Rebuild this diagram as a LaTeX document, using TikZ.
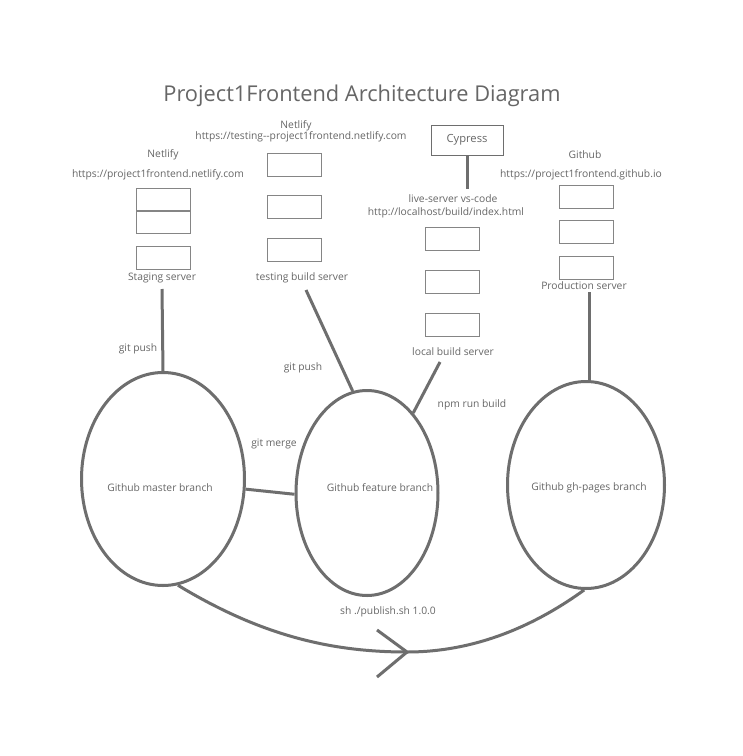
\documentclass[tikz,border=0pt]{standalone}
\usepackage{fontspec}
\setmainfont{Open Sans}
\usetikzlibrary{shapes.geometric,calc}
\definecolor{ln}{HTML}{6E6E6E}
\definecolor{tx}{HTML}{666666}
\definecolor{bx}{HTML}{858585}
\begin{document}
\begin{tikzpicture}[x=1pt,y=-1pt,
  lbl/.style={text=tx,font=\fontsize{10.3}{12}\selectfont,inner sep=0pt,yshift=-1.5pt},
  srv/.style={draw=bx,line width=1pt,minimum width=54pt,minimum height=23pt,inner sep=0pt},
  br/.style={ellipse,draw=ln,line width=3pt,inner sep=0pt},
  conn/.style={draw=ln,line width=3pt}]
\useasboundingbox[fill=white] (0,0) rectangle (743,756);
\node[text=tx,font=\fontsize{21.8}{26}\selectfont,inner sep=0pt] (title) at (362,96) {Project1Frontend Architecture Diagram};
% staging column
\node[lbl] (n1) at (163,153) {Netlify};
\node[lbl] (u1) at (158,173) {https://project1frontend.netlify.com};
\node[srv] (s1a) at (163,199.5) {};
\node[srv] (s1b) at (163,222) {};
\node[srv] (s1c) at (163,257.5) {};
\node[lbl] (stg) at (162,276) {Staging server};
% testing column
\node[lbl] (n2) at (296,124) {Netlify};
\node[lbl] (u2) at (301,135) {https://testing-{}-project1frontend.netlify.com};
\node[srv] (s2a) at (294.5,165) {};
\node[srv] (s2b) at (294.5,207) {};
\node[srv] (s2c) at (294.5,250) {};
\node[lbl] (tst) at (302,276) {testing build server};
% local column
\node[draw=ln,line width=1pt,minimum width=72pt,minimum height=30pt,inner sep=0pt,text=tx,font=\fontsize{11.2}{13}\selectfont] (cy) at (467,140) {Cypress};
\node[lbl] (lv) at (453,197) {live-server vs-code};
\node[lbl] (lh) at (446,211) {http://localhost/build/index.html};
\node[srv] (s3a) at (452,239) {};
\node[srv] (s3b) at (452,282) {};
\node[srv] (s3c) at (452,325) {};
\node[lbl] (loc) at (453,350) {local build server};
% github column
\node[lbl] (n4) at (585,153) {Github};
\node[lbl] (u4) at (581,173) {https://project1frontend.github.io};
\node[srv] (s4a) at (586.5,197) {};
\node[srv] (s4b) at (586.5,232) {};
\node[srv] (s4c) at (586.5,268) {};
\node[lbl] (prd) at (584,284) {Production server};
% branches
\node[br,minimum width=163pt,minimum height=213pt] (master) at (163,479) {};
\node[br,minimum width=142pt,minimum height=205pt] (feature) at (367,493) {};
\node[br,minimum width=157pt,minimum height=207pt] (gh) at (586,485) {};
\node[lbl] (tm) at (160,486) {Github master branch};
\node[lbl] (tf) at (380,486) {Github feature branch};
\node[lbl] (tg) at (589,486) {Github gh-pages branch};
% labels
\node[lbl] (gp1) at (138,347) {git push};
\node[lbl] (gp2) at (303,366) {git push};
\node[lbl] (npm) at (472,403) {npm run build};
\node[lbl] (gm) at (274,442) {git merge};
\node[lbl] (pub) at (388,610) {sh ./publish.sh 1.0.0};
% connectors
\coordinate (c1) at (162,289);
\coordinate (c2) at (306,290);
\coordinate (c3) at (440,362);
\coordinate (c4) at (589,292);
\coordinate (tip) at (407,652);
\draw[conn] (c1) -- (master.north);
\draw[conn] (c2) -- (feature.98);
\draw[conn] (c3) -- (feature.60);
\draw[conn] (cy.south) -- ++(0,33);
\draw[conn] (c4) -- (c4 |- gh.north);
\draw[conn] (master.-7) -- (feature.181);
\draw[conn] (master.-82) .. controls (260,635) and (330,652) .. (tip) .. controls (480,652) and (540,622) .. (gh.-91);
\draw[conn] ($(tip)+(-30,-22)$) -- (tip) -- ($(tip)+(-30,25)$);
\end{tikzpicture}
\end{document}
